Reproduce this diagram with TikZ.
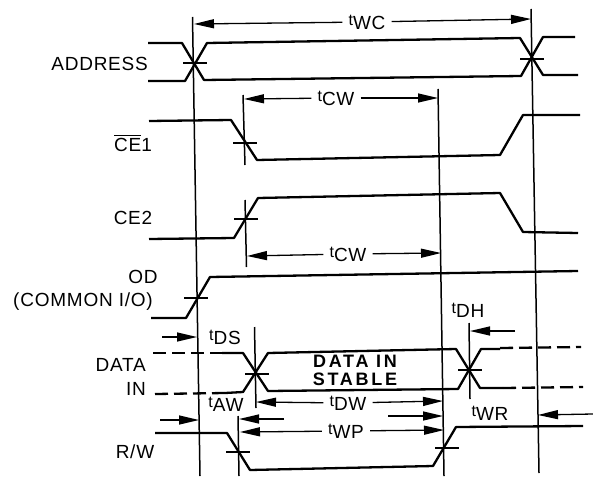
\documentclass[tikz,border=0pt]{standalone}
\usepackage{fontspec}
\setmainfont{Liberation Sans}[LetterSpace=4]
\usepackage{amsmath}
\usetikzlibrary{calc, positioning, arrows.meta}

\newcommand{\tname}[1]{{\fontsize{16}{16}\selectfont t}\raisebox{-4pt}{#1}}

\begin{document}
\begin{tikzpicture}[x=1pt, y=-1pt,
    signal/.style={line width=2.3pt, line join=round},
    dashsig/.style={line width=2.3pt, dash pattern=on 13pt off 6pt},
    guide/.style={line width=1.5pt},
    crosstick/.style={line width=1.4pt},
    dimline/.style={line width=1.3pt, -{Triangle[length=20pt, width=9pt]}},
    siglabel/.style={font=\fontsize{19}{21}\selectfont, inner sep=0pt},
    timelabel/.style={font=\fontsize{19}{21}\selectfont, inner xsep=6pt, inner ysep=2pt}]
  \useasboundingbox (0,0) rectangle (593,476);

  % Guide lines
  \draw[guide] (192.5,17) -- (200,476);
  \draw[guide] (243,95) -- (245,165);
  \draw[guide] (245,200) -- (246.5,267);
  \draw[guide] (254.5,327) -- (256,408);
  \draw[guide] (238,416) -- (239,476);
  \draw[guide] (438,89) -- (444,476);
  \draw[guide] (531,9) -- (539,473);
  \draw[guide] (469,323) -- (470,399);

  % Address
  \draw[signal] (148,43) -- (182,43) -- (204,80) -- (521,76) -- (543,37) -- (575,37);
  \draw[signal] (148,81) -- (185,81) -- (207,43) -- (520,38) -- (543,75) -- (578,75);

  % Chip enables
  \draw[signal] (149,121) -- (231,120) -- (257,160) -- (500,155) -- (523,115) -- (580,115);
  \draw[signal] (149,239) -- (234,238) -- (258,198) -- (500,193) -- (523,232) -- (578,233);

  % Common I/O
  \draw[signal] (151,318) -- (186,318) -- (210,277) -- (578,271);

  % Data lines
  \draw[dashsig] (153,353) -- (222,353);
  \draw[signal] (222,353) -- (243,353) -- (268,391) -- (458,389) -- (481,349) -- (500,349);
  \draw[dashsig] (500,348) -- (581,347);
  \draw[dashsig] (155,394) -- (225,393);
  \draw[signal] (225,393) -- (243,392) -- (268,353) -- (456,349) -- (480,388) -- (503,388);
  \draw[dashsig] (503,388) -- (583,387);

  % R/W line
  \draw[signal] (155,433) -- (227,433) -- (250,470) -- (433,466) -- (456,427) -- (583,426);

  % Crossing ticks
  \foreach \tx/\ty in {195/63, 532/59, 245/143, 246/219, 196/298, 257/374, 470/370, 238/452, 447/448}
    \draw[crosstick] ({\tx-12},\ty) -- ({\tx+12},\ty);

  % Signal names
  \node[siglabel, anchor=east] (address) at (148,64) {ADDRESS};
  \node[siglabel] (ceone) at (133,143) {$\overline{\mbox{CE}}$1};
  \node[siglabel] (cetwo) at (133,218) {CE2};
  \node[siglabel] (od) at (143,277) {OD};
  \node[siglabel] (common) at (83,302) {(COMMON I/O)};
  \node[siglabel, anchor=east] (datalbl) at (146,365) {DATA};
  \node[siglabel, anchor=east] (inlbl) at (146,389) {IN};
  \node[siglabel] (rw) at (135,452) {R/W};
  \node[siglabel, align=center, font=\fontsize{18}{18}\selectfont\bfseries\addfontfeature{LetterSpace=15}] (stable) at (355,370.5) {DATA IN\\STABLE};

  % Timing names
  \node[timelabel] (twc) at (367,22) {\tname{WC}};
  \node[timelabel] (tcwa) at (336,98) {\tname{CW}};
  \node[timelabel] (tcwb) at (348,254) {\tname{CW}};
  \node[timelabel] (tds) at (225,337) {\tname{DS}};
  \node[timelabel] (taw) at (226,404) {\tname{AW}};
  \node[timelabel] (tdw) at (348,403) {\tname{DW}};
  \node[timelabel] (twp) at (346,431) {\tname{WP}};
  \node[timelabel] (tdh) at (468,310) {\tname{DH}};
  \node[timelabel] (twr) at (490,413) {\tname{WR}};

  % Arrow ends on the guides
  \coordinate (wcL) at (194,24);
  \coordinate (wcR) at (531,19);
  \coordinate (cwaL) at (244,99);
  \coordinate (cwaR) at (438,98);
  \coordinate (cwbL) at (247,256);
  \coordinate (cwbR) at (441,253);
  \coordinate (dwL) at (256,402);
  \coordinate (dwR) at (443,401);
  \coordinate (wpL) at (240,432);
  \coordinate (wpR) at (444,430);
  \coordinate (dsL) at (162,337);
  \coordinate (dsR) at (197,337);
  \coordinate (awL) at (160,420);
  \coordinate (awR) at (199,420);
  \coordinate (awM) at (284,419);
  \coordinate (awN) at (239,419);
  \coordinate (awP) at (388,416);
  \coordinate (awQ) at (443,416);
  \coordinate (dhL) at (515,331);
  \coordinate (dhR) at (470,331);
  \coordinate (wrL) at (593,414);
  \coordinate (wrR) at (538,415);

  % Dimension arrows
  \draw[dimline] (twc) -- (wcL);
  \draw[dimline] (twc) -- (wcR);
  \draw[dimline] (tcwa) -- (cwaL);
  \draw[dimline] (tcwa) -- (cwaR);
  \draw[dimline] (tcwb) -- (cwbL);
  \draw[dimline] (tcwb) -- (cwbR);
  \draw[dimline] (tdw) -- (dwL);
  \draw[dimline] (tdw) -- (dwR);
  \draw[dimline] (twp) -- (wpL);
  \draw[dimline] (twp) -- (wpR);
  \draw[dimline] (dsL) -- (dsR);
  \draw[dimline] (awL) -- (awR);
  \draw[dimline] (awM) -- (awN);
  \draw[dimline] (awP) -- (awQ);
  \draw[dimline] (dhL) -- (dhR);
  \draw[dimline] (wrL) -- (wrR);
\end{tikzpicture}
\end{document}
